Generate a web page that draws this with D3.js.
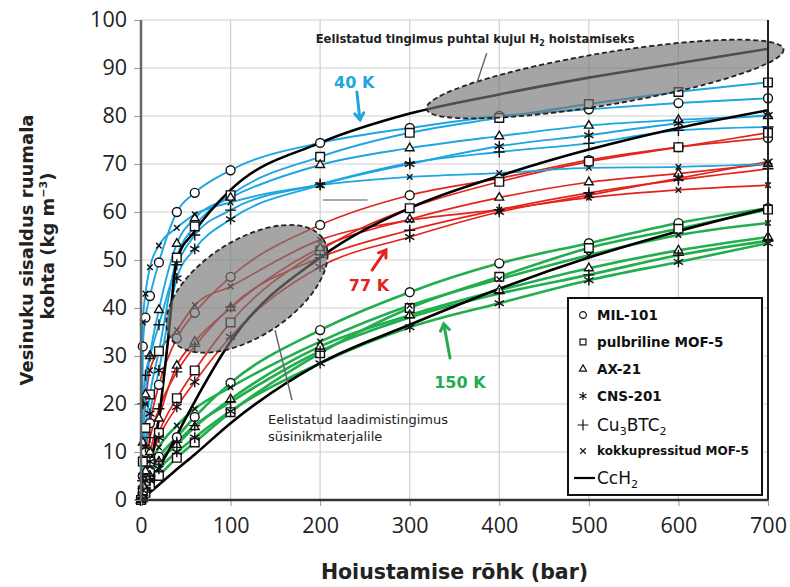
<!DOCTYPE html>
<html>
<head>
<meta charset="utf-8">
<script src="https://cdn.jsdelivr.net/npm/d3@7"></script>
<style>
  body { margin: 0; background: #fff; }
  svg { display: block; font-family: "DejaVu Sans", sans-serif; }
</style>
</head>
<body>
<div id="chart"></div>
<script>
// pressure points (bar) where the sorbent curves were read
const pressure = [0, 2, 5, 10, 20, 40, 60, 100, 200, 300, 400, 500, 600, 700]

// 40 K
const mil40 = [0, 32, 38, 42.5, 49.5, 60, 64, 68.7, 74.4, 77.5, 80, 81.4, 82.7, 83.7]
const mof40 = [0, 8, 15, 22, 31, 50.5, 57, 63.5, 71.5, 76.5, 79.6, 82.5, 85, 87]
const ax40 = [0, 12, 22, 30, 39.6, 53.4, 58.7, 63, 69.8, 73.3, 75.8, 78, 79.2, 80]
const cns40 = [0, 5, 11, 18, 27, 46.2, 52.3, 58.5, 65.6, 70, 73.7, 76, 78.5, 80.2]
const cu40 = [0, 20, 26, 30, 36.5, 49, 55.2, 60.4, 65.8, 70.2, 72.5, 74.3, 77, 77.7]
const kok40 = [0, 37, 43, 48.5, 53, 56.7, 59.5, 62, 65.6, 67.3, 68.1, 69.2, 69.4, 70]

// 77 K
const mil77 = [0, 5, 10, 16, 24, 33.7, 39, 46.5, 57.3, 63.5, 67, 70.8, 73.5, 75.4]
const mof77 = [0, 2, 4, 8, 14, 21.2, 27, 37, 52, 60.8, 66.3, 70.5, 73.5, 76.5]
const ax77 = [0, 3, 6, 10, 17, 28, 33, 40, 52.5, 58.5, 63, 66.2, 68, 70]
const cns77 = [0, 2, 4, 8, 13, 19.4, 24.6, 34, 48.6, 54.8, 60, 63.5, 67, 70.5]
const cu77 = [0, 4, 8, 13, 19, 26.7, 32, 40.2, 50.5, 56.2, 60.5, 64, 66.7, 69]
const kok77 = [0, 12, 20, 27, 31, 35.4, 40.6, 44.5, 54.2, 58.3, 60.5, 63, 64.6, 65.6]

// 150 K
const mil150 = [0, 1.5, 3, 6, 9, 13.1, 17.3, 24.4, 35.4, 43.3, 49.3, 53.5, 57.7, 60.8]
const mof150 = [0, 0.5, 1.5, 3, 5, 8.8, 12, 18.3, 30.6, 40, 46.5, 52.5, 56.5, 60.5]
const ax150 = [0, 1, 2.5, 5, 8, 11.5, 15.2, 21, 32, 38.5, 43.7, 48.3, 52, 54.8]
const cns150 = [0, 0.8, 2, 4, 6.5, 10, 13, 18.5, 28.5, 36, 41, 45.8, 49.6, 53.5]
const cu150 = [0, 1, 2.5, 5, 8, 12, 15.5, 20.4, 31, 38, 43, 46.9, 51, 54]
const kok150 = [0, 2, 4, 7, 11, 15.5, 19, 23.5, 33, 40.5, 46, 51, 55.2, 57.7]

// cryo-compressed H2 (CcH2), no markers
const ccPressure = [0, 10, 20, 30, 40, 60, 100, 200, 300, 400, 500, 600, 700]
const cc40 = [0, 7, 17, 33, 50, 56, 64.6, 74.4, 80.5, 84.5, 88, 91, 94]
const cc77 = [0, 3.2, 6.6, 10, 13.5, 20.5, 33, 50.5, 60.8, 67.5, 73, 77.5, 81.2]
const cc150 = [0, 1.6, 3.2, 4.8, 6.4, 9.5, 16, 28.5, 36.5, 44, 50.5, 56, 60.8]

const materials = ['MIL-101', 'pulbriline MOF-5', 'AX-21', 'CNS-201', 'Cu3BTC2', 'kokkupressitud MOF-5']
const xTicks = [0, 100, 200, 300, 400, 500, 600, 700]
const yTicks = [0, 10, 20, 30, 40, 50, 60, 70, 80, 90, 100]

const width = 790
const height = 587

const x = d3.scaleLinear().domain([0, 700]).range([141, 768])
const y = d3.scaleLinear().domain([0, 100]).range([500, 20])

const svg = d3.select('#chart').append('svg')
  .attr('width', width)
  .attr('height', height)

// grid
svg.append('g').selectAll('line.v')
  .data(xTicks.slice(1))
  .enter().append('line')
  .attr('x1', d => x(d)).attr('x2', d => x(d))
  .attr('y1', y(0)).attr('y2', y(100))
  .attr('stroke', '#cfcfcf').attr('stroke-width', 1.2)
svg.append('g').selectAll('line.h')
  .data(yTicks.slice(1))
  .enter().append('line')
  .attr('x1', x(0)).attr('x2', x(700))
  .attr('y1', d => y(d)).attr('y2', d => y(d))
  .attr('stroke', '#cfcfcf').attr('stroke-width', 1.2)

const groups = [
  { color: '#22ad4f', width: 2.6, rows: [mil150, mof150, ax150, cns150, cu150, kok150] },
  { color: '#e3241d', width: 1.7, rows: [mil77, mof77, ax77, cns77, cu77, kok77] },
  { color: '#1ea6e0', width: 1.9, rows: [mil40, mof40, ax40, cns40, cu40, kok40] }
]

const line = d3.line()
  .x(d => x(d[0]))
  .y(d => y(d[1]))
  .curve(d3.curveMonotoneX)

groups.forEach(function (g) {
  svg.append('g').selectAll('path')
    .data(g.rows)
    .enter().append('path')
    .attr('d', r => line(r.map((v, i) => [pressure[i], v])))
    .attr('fill', 'none')
    .attr('stroke', g.color)
    .attr('stroke-width', g.width)
})

// CcH2 curves
svg.append('g').selectAll('path')
  .data([cc40, cc77, cc150])
  .enter().append('path')
  .attr('d', r => line(r.map((v, i) => [ccPressure[i], v])))
  .attr('fill', 'none')
  .attr('stroke', '#000')
  .attr('stroke-width', 2.6)

// markers
const symbols = [d3.symbolCircle, d3.symbolSquare2, d3.symbolTriangle2, d3.symbolAsterisk, d3.symbolPlus, d3.symbolTimes]
const symSize = [62, 95, 55, 80, 42, 22]

groups.forEach(function (g) {
  g.rows.forEach(function (r, k) {
    svg.append('g').selectAll('path')
      .data(r.map((v, i) => [pressure[i], v]))
      .enter().append('path')
      .attr('transform', d => 'translate(' + x(d[0]) + ',' + y(d[1]) + ')')
      .attr('d', d3.symbol().type(symbols[k]).size(symSize[k]))
      .attr('fill', k < 3 ? '#fff' : 'none')
      .attr('stroke', '#111')
      .attr('stroke-width', 1.4)
  })
})

// stray short segment
svg.append('line')
  .attr('x1', x(203)).attr('x2', x(253))
  .attr('y1', y(62.5)).attr('y2', y(62.5))
  .attr('stroke', '#555').attr('stroke-width', 1.2)

// shaded ellipses
function ellipse (cx, cy, rx, ry, angle) {
  svg.append('ellipse')
    .attr('cx', x(cx)).attr('cy', y(cy))
    .attr('rx', rx).attr('ry', ry)
    .attr('transform', 'rotate(' + angle + ',' + x(cx) + ',' + y(cy) + ')')
    .attr('fill', '#777')
    .attr('fill-opacity', 0.66)
    .attr('stroke', '#222')
    .attr('stroke-width', 1.8)
    .attr('stroke-dasharray', '5,3')
}
ellipse(518, 87.7, 181, 26, -9.5)
ellipse(118.3, 44, 91, 48, -33)

// annotation texts
svg.append('line')
  .attr('x1', x(386)).attr('y1', y(93.1))
  .attr('x2', x(375)).attr('y2', y(86.9))
  .attr('stroke', '#666').attr('stroke-width', 1.5)
const t1 = svg.append('text')
  .attr('x', x(195)).attr('y', y(95.2))
  .attr('font-size', 11.6).attr('font-weight', 'bold').attr('fill', '#222')
t1.append('tspan').text('Eelistatud tingimus puhtal kujul H')
t1.append('tspan').text('2').attr('font-size', 8).attr('dy', 3)
t1.append('tspan').text(' hoistamiseks').attr('dy', -3)

svg.append('line')
  .attr('x1', x(168.6)).attr('y1', y(20.8))
  .attr('x2', x(149.6)).attr('y2', y(35.4))
  .attr('stroke', '#666').attr('stroke-width', 1.5)
svg.append('text')
  .attr('x', x(141.8)).attr('y', y(15.8))
  .attr('font-size', 13).attr('fill', '#222')
  .text('Eelistatud laadimistingimus')
svg.append('text')
  .attr('x', x(141.8)).attr('y', y(12.3))
  .attr('font-size', 13).attr('fill', '#222')
  .text('süsinikmaterjalile')

// temperature labels with arrows
const temps = [
  { label: '40 K', color: '#1ea6e0', tx: 238, ty: 87, from: [241, 85], to: [244.5, 79.2] },
  { label: '77 K', color: '#e3241d', tx: 254.5, ty: 44.8, from: [258, 47.9], to: [273.5, 52.1] },
  { label: '150 K', color: '#22ad4f', tx: 356, ty: 24.6, from: [345, 29.6], to: [338, 36.7] }
]
temps.forEach(function (t) {
  svg.append('text')
    .attr('x', x(t.tx)).attr('y', y(t.ty))
    .attr('dy', '0.36em')
    .attr('text-anchor', 'middle')
    .attr('font-size', 16).attr('font-weight', 'bold')
    .attr('fill', t.color)
    .text(t.label)
  const x0 = x(t.from[0]), y0 = y(t.from[1]), x1 = x(t.to[0]), y1 = y(t.to[1])
  const a = Math.atan2(y1 - y0, x1 - x0)
  const h = 8
  const p = d3.path()
  p.moveTo(x0, y0); p.lineTo(x1, y1)
  p.moveTo(x1 - h * Math.cos(a - 0.6), y1 - h * Math.sin(a - 0.6)); p.lineTo(x1, y1)
  p.lineTo(x1 - h * Math.cos(a + 0.6), y1 - h * Math.sin(a + 0.6))
  svg.append('path').attr('d', p.toString())
    .attr('fill', 'none').attr('stroke', t.color)
    .attr('stroke-width', 3).attr('stroke-linecap', 'round')
})

// axes
const yAxis = svg.append('g')
  .attr('transform', 'translate(' + x(0) + ',0)')
  .call(d3.axisLeft(y).tickValues(yTicks).tickSize(7).tickPadding(7))
const xAxis = svg.append('g')
  .attr('transform', 'translate(0,' + y(0) + ')')
  .call(d3.axisBottom(x).tickValues(xTicks).tickSize(6).tickPadding(12))
;[yAxis, xAxis].forEach(function (ax) {
  ax.select('.domain').remove()
  ax.selectAll('line').attr('stroke', '#999')
  ax.selectAll('text')
    .attr('font-family', '"Open Sans", sans-serif')
    .attr('font-size', 21.5)
    .attr('fill', '#222')
})

// frame lines
svg.append('line').attr('x1', x(0)).attr('x2', x(0)).attr('y1', y(100)).attr('y2', y(0))
  .attr('stroke', '#666').attr('stroke-width', 2.5)
svg.append('line').attr('x1', x(0)).attr('x2', x(700)).attr('y1', y(0)).attr('y2', y(0))
  .attr('stroke', '#333').attr('stroke-width', 2.5)
svg.append('line').attr('x1', x(700)).attr('x2', x(700)).attr('y1', y(100)).attr('y2', y(0))
  .attr('stroke', '#222').attr('stroke-width', 2)

// axis titles
svg.append('text')
  .attr('transform', 'translate(' + 27 + ',' + 250 + ') rotate(-90)')
  .attr('text-anchor', 'middle').attr('dy', '0.35em')
  .attr('font-size', 18).attr('font-weight', 'bold').attr('fill', '#222')
  .text('Vesinuku sisaldus ruumala')
const yt2 = svg.append('text')
  .attr('transform', 'translate(' + 48 + ',' + 246 + ') rotate(-90)')
  .attr('text-anchor', 'middle').attr('dy', '0.35em')
  .attr('font-size', 18).attr('font-weight', 'bold').attr('fill', '#222')
yt2.append('tspan').text('kohta (kg m')
yt2.append('tspan').text('−3').attr('font-size', 11).attr('dy', -7)
yt2.append('tspan').text(')').attr('dy', 7)

svg.append('text')
  .attr('x', (x(0) + x(700)) / 2).attr('y', 572)
  .attr('text-anchor', 'middle').attr('dy', '0.35em')
  .attr('font-size', 20.5).attr('font-weight', 'bold').attr('fill', '#222')
  .text('Hoiustamise rõhk (bar)')

// legend
const lg = svg.append('g')
lg.append('rect')
  .attr('x', 568).attr('y', 298).attr('width', 194).attr('height', 197)
  .attr('fill', '#fff').attr('stroke', '#111').attr('stroke-width', 2)
const rowY = [315, 342, 369, 396, 425, 451]
const legendSize = [36, 45, 36, 45, 40, 22]
materials.forEach(function (m, k) {
  lg.append('path')
    .attr('transform', 'translate(583,' + rowY[k] + ')')
    .attr('d', d3.symbol().type(symbols[k]).size(legendSize[k]))
    .attr('fill', 'none').attr('stroke', '#111').attr('stroke-width', 1.2)
  const t = lg.append('text')
    .attr('x', 597).attr('y', rowY[k]).attr('dy', '0.36em')
    .attr('fill', '#111')
  if (k === 4) {
    t.attr('font-size', 17)
    t.append('tspan').text('Cu')
    t.append('tspan').text('3').attr('font-size', 11).attr('dy', 4)
    t.append('tspan').text('BTC').attr('dy', -4)
    t.append('tspan').text('2').attr('font-size', 11).attr('dy', 4)
  } else {
    t.attr('font-size', k === 5 ? 12 : 13.5).attr('font-weight', 'bold').text(m)
  }
})
lg.append('line')
  .attr('x1', 574).attr('x2', 595).attr('y1', 478).attr('y2', 478)
  .attr('stroke', '#000').attr('stroke-width', 2.2)
const cc = lg.append('text')
  .attr('x', 597).attr('y', 478).attr('dy', '0.36em')
  .attr('font-size', 17).attr('fill', '#111')
cc.append('tspan').text('CcH')
cc.append('tspan').text('2').attr('font-size', 11).attr('dy', 4)
</script>
</body>
</html>
